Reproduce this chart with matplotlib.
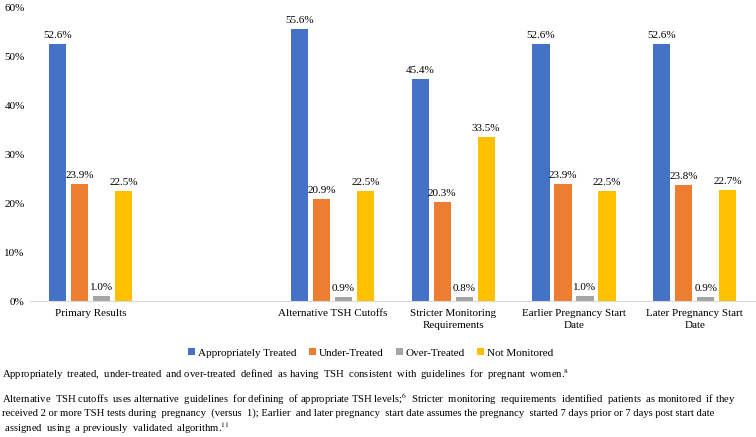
import numpy as np
import matplotlib
matplotlib.use("Agg")
import matplotlib.pyplot as plt

plt.rcParams["font.family"] = ["Liberation Serif", "DejaVu Serif"]
plt.rcParams["mathtext.fontset"] = "stix"

categories = ["Primary Results", "", "Alternative TSH Cutoffs",
              "Stricter Monitoring\nRequirements", "Earlier Pregnancy Start\nDate",
              "Later Pregnancy Start\nDate"]
series = ["Appropriately Treated", "Under-Treated", "Over-Treated", "Not Monitored"]
appropriate = [52.6, np.nan, 55.6, 45.4, 52.6, 52.6]
under = [23.9, np.nan, 20.9, 20.3, 23.9, 23.8]
over = [1.0, np.nan, 0.9, 0.8, 1.0, 0.9]
not_monitored = [22.5, np.nan, 22.5, 33.5, 22.5, 22.7]
colors = ["#4472C4", "#ED7D31", "#A5A5A5", "#FFC000"]

fig = plt.figure(figsize=(7.56, 4.37), dpi=100)
ax = fig.add_axes([0.040, 0.311, 0.959, 0.671])

x = np.arange(len(categories))
pitch = 0.182
width = 0.142
for i, (name, vals) in enumerate(zip(series, [appropriate, under, over, not_monitored])):
    pos = x + (i - 1.5) * pitch
    ax.bar(pos, vals, width, color=colors[i], label=name, zorder=2)
    for px, v in zip(pos, vals):
        if not np.isnan(v):
            ax.text(px, v + 0.8, f"{v:.1f}%", ha="center", va="bottom", fontsize=8)

ax.set_xlim(-0.5, len(categories) - 0.5)
ax.set_ylim(0, 60)
ax.set_yticks(range(0, 61, 10))
ax.set_yticklabels([f"{t}%" for t in range(0, 61, 10)], fontsize=8)
ax.set_xticks(x)
ax.set_xticklabels(categories, fontsize=8, linespacing=1.35)
ax.tick_params(axis="x", length=0, pad=6)
ax.tick_params(axis="y", length=0, pad=4)
for s in ["top", "right", "left"]:
    ax.spines[s].set_visible(False)
ax.spines["bottom"].set_color("#D9D9D9")

fig.legend(loc="center", bbox_to_anchor=(371 / 756, 1 - 353 / 437), ncol=4,
           frameon=False, prop={"family": "Liberation Serif", "size": 8},
           handlelength=0.6, handleheight=0.6, handletextpad=0.3, columnspacing=1.1)

fig.text(0.003, 1 - 375 / 437,
         "Appropriately  treated,  under-treated  and over-treated  defined  as having  TSH  consistent  with  guidelines  for  pregnant  women.$^{8}$",
         fontsize=7.7, va="center", ha="left")
notes = [
    "Alternative  TSH cutoffs  uses alternative  guidelines  for defining  of appropriate TSH levels;$^{6}$  Stricter  monitoring  requirements  identified  patients  as monitored  if they",
    "received 2 or more TSH tests during  pregnancy  (versus  1); Earlier  and later pregnancy  start date assumes the pregnancy  started 7 days prior or 7 days post start date",
    " assigned  using  a previously  validated  algorithm.$^{11}$",
]
for k, line in enumerate(notes):
    fig.text(0.003, 1 - (399 + 14.5 * k) / 437, line, fontsize=7.7, va="center", ha="left")

fig.savefig("out.png", dpi=100)
